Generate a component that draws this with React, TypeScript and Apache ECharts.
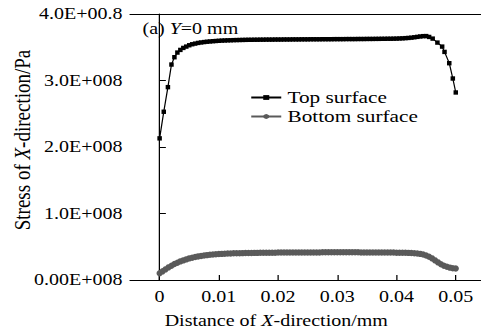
import React, { useEffect, useRef } from "react";
import * as echarts from "echarts";

// ---------- data (stress in units of 1E+008 Pa, distance in mm) ----------
const topDistance = [
  0, 0.0007, 0.0014, 0.002, 0.0025, 0.003, 0.0035, 0.004,
  0.0045, 0.005, 0.0055, 0.006, 0.0065, 0.007, 0.0075, 0.008, 0.0085, 0.009, 0.0095, 0.01,
  0.0105, 0.011, 0.0115, 0.012, 0.0125, 0.013, 0.0135, 0.014, 0.0145, 0.015,
  0.0155, 0.016, 0.0165, 0.017, 0.0175, 0.018, 0.0185, 0.019, 0.0195, 0.02,
  0.0205, 0.021, 0.0215, 0.022, 0.0225, 0.023, 0.0235, 0.024, 0.0245, 0.025,
  0.0255, 0.026, 0.0265, 0.027, 0.0275, 0.028, 0.0285, 0.029, 0.0295, 0.03,
  0.0305, 0.031, 0.0315, 0.032, 0.0325, 0.033, 0.0335, 0.034, 0.0345, 0.035,
  0.0355, 0.036, 0.0365, 0.037, 0.0375, 0.038, 0.0385, 0.039, 0.0395, 0.04,
  0.0405, 0.041, 0.0415, 0.042, 0.0425, 0.043, 0.0435, 0.044, 0.0445, 0.045, 0.0455,
  0.0461, 0.0469, 0.0477, 0.0481, 0.0489, 0.0495, 0.05,
];
const topStress = [
  2.13, 2.53, 2.9, 3.24, 3.35, 3.42, 3.46, 3.49,
  3.51, 3.53, 3.545, 3.555, 3.565, 3.572, 3.578, 3.583, 3.587, 3.591, 3.594, 3.597,
  3.6, 3.602, 3.604, 3.605, 3.607, 3.608, 3.609, 3.61, 3.611, 3.612,
  3.612, 3.613, 3.613, 3.614, 3.614, 3.615, 3.615, 3.615, 3.616, 3.616,
  3.616, 3.617, 3.617, 3.617, 3.618, 3.618, 3.618, 3.619, 3.619, 3.619,
  3.62, 3.62, 3.62, 3.62, 3.621, 3.621, 3.621, 3.621, 3.622, 3.622,
  3.622, 3.622, 3.623, 3.623, 3.623, 3.623, 3.624, 3.624, 3.624, 3.625,
  3.625, 3.625, 3.626, 3.626, 3.627, 3.627, 3.628, 3.628, 3.629, 3.63,
  3.632, 3.634, 3.637, 3.64, 3.644, 3.65, 3.656, 3.662, 3.667, 3.668, 3.655,
  3.63, 3.57, 3.51, 3.43, 3.26, 3.03, 2.82,
];

const bottomDistance = [
  0, 0.0005, 0.001, 0.0015, 0.002, 0.0025, 0.003, 0.0035, 0.004, 0.0045, 0.005,
  0.0055, 0.006, 0.0065, 0.007, 0.0075, 0.008, 0.0085, 0.009, 0.0095, 0.01,
  0.0105, 0.011, 0.0115, 0.012, 0.0125, 0.013, 0.0135, 0.014, 0.0145, 0.015,
  0.0155, 0.016, 0.0165, 0.017, 0.0175, 0.018, 0.0185, 0.019, 0.0195, 0.02,
  0.0205, 0.021, 0.0215, 0.022, 0.0225, 0.023, 0.0235, 0.024, 0.0245, 0.025,
  0.0255, 0.026, 0.0265, 0.027, 0.0275, 0.028, 0.0285, 0.029, 0.0295, 0.03,
  0.0305, 0.031, 0.0315, 0.032, 0.0325, 0.033, 0.0335, 0.034, 0.0345, 0.035,
  0.0355, 0.036, 0.0365, 0.037, 0.0375, 0.038, 0.0385, 0.039, 0.0395, 0.04,
  0.0405, 0.041, 0.0415, 0.042, 0.0425, 0.043, 0.0435, 0.044, 0.0445, 0.045,
  0.0455, 0.046, 0.0465, 0.047, 0.0475, 0.048, 0.0485, 0.049, 0.0495, 0.05,
];
const bottomStress = [
  0.1, 0.13, 0.16, 0.19, 0.215, 0.24, 0.26, 0.28, 0.295, 0.31, 0.325,
  0.335, 0.345, 0.355, 0.362, 0.368, 0.374, 0.379, 0.383, 0.387, 0.39,
  0.393, 0.395, 0.397, 0.399, 0.401, 0.402, 0.403, 0.404, 0.405, 0.406,
  0.407, 0.408, 0.408, 0.409, 0.409, 0.41, 0.41, 0.411, 0.411, 0.412,
  0.412, 0.412, 0.413, 0.413, 0.413, 0.414, 0.414, 0.414, 0.414, 0.415,
  0.415, 0.415, 0.415, 0.415, 0.416, 0.416, 0.416, 0.416, 0.416, 0.416,
  0.416, 0.416, 0.416, 0.416, 0.416, 0.416, 0.416, 0.415, 0.415, 0.415,
  0.415, 0.415, 0.414, 0.414, 0.414, 0.413, 0.413, 0.412, 0.412, 0.411,
  0.41, 0.41, 0.409, 0.408, 0.406, 0.403, 0.399, 0.393, 0.383, 0.368,
  0.35, 0.325, 0.295, 0.265, 0.238, 0.215, 0.198, 0.186, 0.178, 0.174,
];

const seriesNames = ["Top surface", "Bottom surface"];
const xTickValues = [0, 0.01, 0.02, 0.03, 0.04, 0.05];
const xTickLabels = ["0", "0.01", "0.02", "0.03", "0.04", "0.05"];
const yTickLabels = ["0.00E+008", "1.0E+008", "2.0E+008", "3.0E+008", "4.0E+00.8"];

// ---------- layout ----------
const S = 1.25; // horizontal stretch of the reference figure
const W = 481 / S;
const H = 331;
const FONT = '"Liberation Serif", "Times New Roman", serif';

export default function App() {
  const ref = useRef<HTMLDivElement>(null);

  useEffect(() => {
    if (!ref.current) return;
    const chart = echarts.init(ref.current, undefined, { renderer: "svg" });
    const topData = topDistance.map((x, i) => [x, topStress[i]]);
    const bottomData = bottomDistance.map((x, i) => [x, bottomStress[i]]);

    chart.setOption({
      animation: false,
      backgroundColor: "#ffffff",
      grid: { left: 104, right: 0, top: 14, bottom: 51 },
      xAxis: [
        {
          type: "value",
          position: "bottom",
          min: -0.005,
          max: 0.0543,
          axisLine: { show: true, lineStyle: { color: "#000", width: 1 } },
          axisTick: {
            show: true,
            inside: true,
            length: 5,
            customValues: xTickValues,
            lineStyle: { color: "#000" },
          },
          axisLabel: {
            customValues: xTickValues,
            formatter: (v: number) => {
              const i = xTickValues.findIndex((t) => Math.abs(t - v) < 1e-9);
              return i >= 0 ? xTickLabels[i] : "";
            },
            fontSize: 16,
            fontFamily: FONT,
            color: "#000",
            margin: 9,
          },
          splitLine: { show: false },
        },
        {
          type: "value",
          position: "top",
          min: -0.005,
          max: 0.0543,
          axisLine: { show: true, lineStyle: { color: "#000", width: 1 } },
          axisTick: { show: false },
          axisLabel: { show: false },
          splitLine: { show: false },
        },
      ],
      yAxis: {
        type: "value",
        min: 0,
        max: 4,
        interval: 1,
        axisLine: { show: true, lineStyle: { color: "#000", width: 1 } },
        axisTick: { show: true, inside: true, length: 5, lineStyle: { color: "#000" } },
        axisLabel: {
          formatter: (v: number) => yTickLabels[Math.round(v)] ?? "",
          fontSize: 16,
          fontFamily: FONT,
          color: "#000",
          margin: 6,
        },
        splitLine: { show: false },
      },
      legend: {
        orient: "vertical",
        left: 200,
        top: 88,
        padding: 0,
        itemWidth: 24,
        itemHeight: 6,
        itemGap: 0,
        data: seriesNames,
        textStyle: { fontSize: 17, fontFamily: FONT, color: "#000", lineHeight: 19 },
      },
      graphic: [
        {
          type: "text",
          left: 114,
          top: 21,
          style: {
            text: "{n|(a) }{i|Y}{n|=0 mm}",
            rich: {
              n: { fontSize: 16, fontFamily: FONT, fill: "#000" },
              i: { fontSize: 16, fontFamily: FONT, fontStyle: "italic", fill: "#000" },
            },
          },
        },
        {
          type: "text",
          x: 221,
          y: 321,
          style: {
            text: "{n|Distance of }{i|X}{n|-direction/mm}",
            align: "center",
            verticalAlign: "middle",
            rich: {
              n: { fontSize: 16, fontFamily: FONT, fill: "#000" },
              i: { fontSize: 16, fontFamily: FONT, fontStyle: "italic", fill: "#000" },
            },
          },
        },
        {
          type: "text",
          x: 17.6,
          y: 140,
          rotation: Math.PI / 2,
          style: {
            text: "{n|Stress of }{i|X}{n|-direction/Pa}",
            align: "center",
            verticalAlign: "middle",
            rich: {
              n: { fontSize: 19, fontFamily: FONT, fill: "#000" },
              i: { fontSize: 19, fontFamily: FONT, fontStyle: "italic", fill: "#000" },
            },
          },
        },
      ],
      series: [
        {
          name: seriesNames[0],
          type: "line",
          data: topData,
          symbol: "rect",
          symbolSize: [3.6, 4.4],
          showAllSymbol: true,
          itemStyle: { color: "#000" },
          lineStyle: { color: "#000", width: 1 },
          z: 3,
        },
        {
          name: seriesNames[1],
          type: "line",
          data: bottomData,
          symbol: "circle",
          symbolSize: [5, 6.4],
          showAllSymbol: true,
          itemStyle: { color: "#5a5a5a" },
          lineStyle: { color: "#5a5a5a", width: 1 },
          z: 2,
        },
      ],
    });

    return () => chart.dispose();
  }, []);

  return (
    <div
      style={{
        position: "fixed",
        left: 0,
        top: 0,
        width: 481,
        height: H,
        overflow: "hidden",
        background: "#fff",
      }}
    >
      <div
        ref={ref}
        style={{
          width: W,
          height: H,
          transform: `scaleX(${S})`,
          transformOrigin: "0 0",
        }}
      />
    </div>
  );
}
